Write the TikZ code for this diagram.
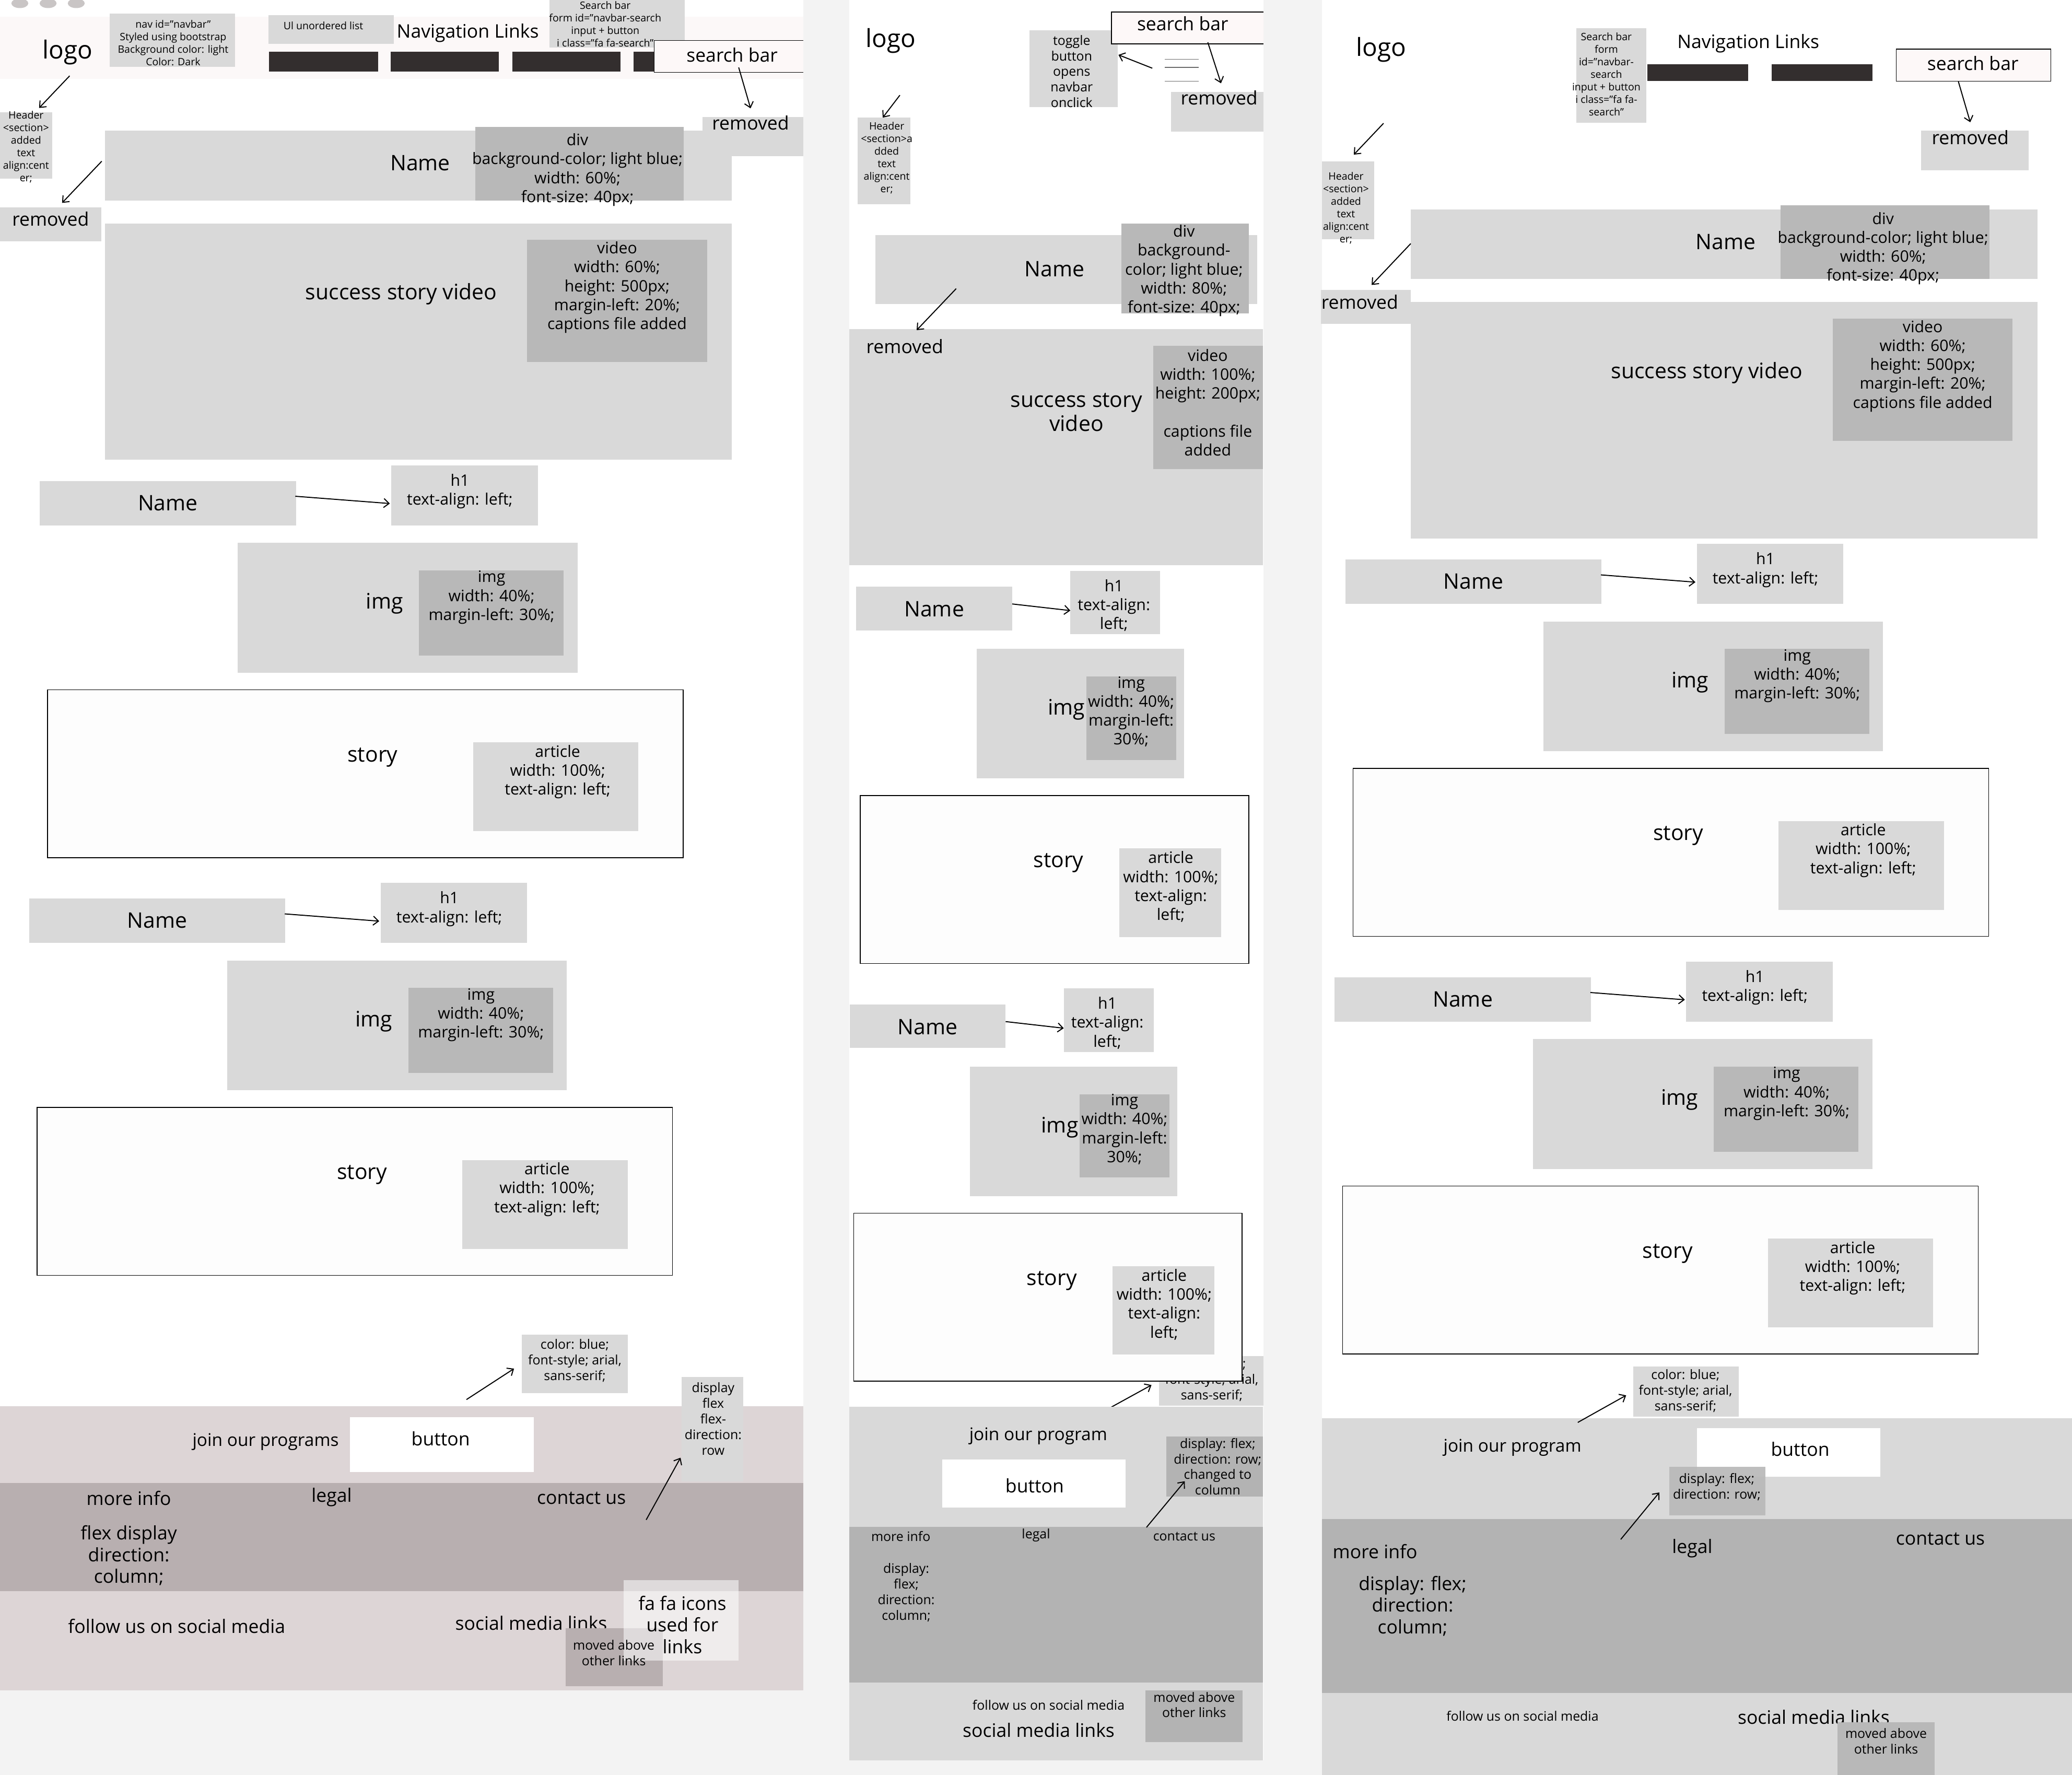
\documentclass[tikz,border=0pt]{standalone}
\usepackage{fontspec}
\setmainfont{Open Sans}
\usetikzlibrary{arrows.meta,fit}
\definecolor{bggray}{HTML}{F3F3F3}
\definecolor{boxgray}{HTML}{D9D9D9}
\definecolor{notegray}{HTML}{B8B8B8}
\definecolor{darkgray2}{HTML}{B3B3B3}
\definecolor{hdrpink}{HTML}{FCF8F8}
\definecolor{sbpink}{HTML}{FDF8F8}
\definecolor{barcol}{HTML}{332E2E}
\definecolor{ftpink}{HTML}{DDD5D6}
\definecolor{ftmauve}{HTML}{B8AFB0}
\definecolor{dotcol}{HTML}{C9C5C5}
\definecolor{storyfill}{HTML}{FDFDFD}
\definecolor{hambcol}{HTML}{6A6A6A}
\newcommand\fsz[2]{\fontsize{#1}{#2}\selectfont}
\tikzset{
 gbox/.style={inner sep=0pt,outer sep=0pt,fill=boxgray,draw=none},
 nbox/.style={inner sep=0pt,outer sep=0pt,fill=notegray,draw=none},
 dbox/.style={inner sep=0pt,outer sep=0pt,fill=darkgray2,draw=none},
 wbox/.style={inner sep=0pt,outer sep=0pt,fill=white,draw=none},
 pbox/.style={inner sep=0pt,outer sep=0pt,fill=sbpink,draw=none},
 storybox/.style={inner sep=0pt,outer sep=0pt,fill=storyfill,draw=black,line width=0.4pt},
 barbox/.style={inner sep=0pt,outer sep=0pt,fill=barcol,draw=none},
 big/.style={inner sep=0pt,align=center,font=\fsz{11.5}{13}},
 mlbl/.style={inner sep=0pt,align=center,font=\fsz{10}{11.7}},
 jlbl/.style={inner sep=0pt,align=center,font=\fsz{9.4}{11.2}},
 logotxt/.style={inner sep=0pt,font=\fsz{13.4}{15}},
 note/.style={inner sep=0pt,align=center,font=\fsz{8.5}{10.2}},
 snote/.style={inner sep=0pt,align=center,font=\fsz{7}{8.4}},
 tnote/.style={inner sep=0pt,align=center,font=\fsz{5.5}{6.75}},
 arr/.style={-{Straight Barb[length=1mm,width=1.7mm]},line width=0.55pt},
 bline/.style={line width=0.45pt,draw=black}
}
% one row: Name / h1 / img / story
\newcommand\storyset[3]{%
\begin{scope}[shift={(#2,#3)}]
  \node[gbox, fit={(30,364)(224,397.5)}] (#1nmbox) {};
  \node[big] (#1nm) at (127,380.6) {Name};
  \node[gbox, fit={(296,352)(407,397.5)}] (#1h1box) {};
  \node[note] (#1h1txt) at (348,371.8) {h1\\text-align: left;};
  \coordinate (#1ha) at (223.5,375.5);
  \coordinate (#1hb) at (295,381);
  \draw[arr] (#1ha) -- (#1hb);
  \node[gbox, fit={(180,410.8)(437,509)}] (#1imgband) {};
  \node[nbox, fit={(317,431.5)(426.5,496)}] (#1imgnote) {};
  \node[note] (#1imgtxt) at (372,452) {img\\width: 40\%;\\margin-left: 30\%;};
  \node[big] (#1imglbl) at (291,456.7) {img};
  \node[storybox, fit={(36,522)(517,649)}] (#1story) {};
  \node[gbox, fit={(358,561.7)(483,629)}] (#1artnote) {};
  \node[note] (#1arttxt) at (422,584) {article\\width: 100\%;\\text-align: left;};
  \node[big] (#1storylbl) at (282,573) {story};
\end{scope}}
% shared main block of the left and right columns
\newcommand\mainblock[3]{%
\begin{scope}[shift={(#2,#3)}]
  \node[gbox, fit={(79.5,99)(553.8,151.6)}] (#1nameband) {};
  \node[nbox, fit={(359.5,96)(517.4,151.6)}] (#1divnote) {};
  \node[big] (#1namelbl) at (318,123.4) {Name};
  \node[note] (#1divtxt) at (437,128.5) {div\\background-color; light blue;\\width: 60\%;\\font-size: 40px;};
  \node[gbox, fit={(79.5,169)(553.8,348)}] (#1videoband) {};
  \node[nbox, fit={(399,181.5)(535,274)}] (#1videonote) {};
  \node[note] (#1videotxt) at (467,217.5) {video\\width: 60\%;\\height: 500px;\\margin-left: 20\%;\\captions file added};
  \node[big] (#1videolbl) at (303.6,222.5) {success story video};
  \storyset{#1a}{0}{0}
  \storyset{#1b}{-8}{316}
\end{scope}}
\begin{document}
\begin{tikzpicture}[x=0.025cm,y=-0.025cm]
\useasboundingbox (0,0) rectangle (1568,1343);
\fill[bggray] (0,0) rectangle (1568,1343);
% columns
\fill[white] (0,0) rectangle (608,1279);
\fill[white] (642.6,0) rectangle (956.3,1332);
\fill[white] (1000.4,0) rectangle (1568,1343);

%================ LEFT COLUMN =================
\foreach \cx in {15,36.4,57.7} \fill[dotcol] (\cx,2.5) ellipse [x radius=0.16cm, y radius=0.09cm];
\fill[hdrpink] (0,12.5) rectangle (608,59.6);
\node[logotxt] (Llogo) at (51,39.5) {logo};
\node[gbox, fit={(83,10.3)(178,50.5)}] (Lnavnote) {};
\node[tnote] (Lnavtxt) at (131,32.6) {nav id=”navbar”\\Styled using bootstrap\\Background color: light\\Color: Dark};
\node[gbox, fit={(203,11.5)(298,33)}] (Luinote) {};
\node[tnote] (Luitxt) at (244.7,19.5) {Ul unordered list};
\node[mlbl] (Lnavlinks) at (354,25) {Navigation Links};
\node[barbox, fit={(203.5,39)(286,54)}] (Lbar1) {};
\node[barbox, fit={(295.6,39)(377.5,54)}] (Lbar2) {};
\node[barbox, fit={(387.7,39)(469.6,54)}] (Lbar3) {};
\node[barbox, fit={(479.4,39)(560,54)}] (Lbar4) {};
\node[gbox, fit={(416,0)(518,36)}] (Lsnote) {};
\node[tnote] (Lstxt) at (458,18.2) {Search bar\\form id=”navbar-search\\input + button\\i class=”fa fa-search”};
\node[pbox, fit={(495,30.6)(608,54.7)}] (Lsb) {};
\draw[bline] (Lsb.north east) -- (Lsb.north west) -- (Lsb.south west) -- (Lsb.south east);
\node[mlbl] (Lsbtxt) at (554,41.5) {search bar};
\node[gbox, fit={(531.6,88.5)(608,118)}] (Lrem1) {};
\node[mlbl] (Lrem1txt) at (568,93) {removed};
\coordinate (Lsa) at (559,51); \coordinate (Lsz) at (568,82);
\draw[arr] (Lsa) -- (Lsz);
\coordinate (Lla) at (52.7,57.4); \coordinate (Llz) at (29.6,81.7);
\draw[arr] (Lla) -- (Llz);
\node[gbox, fit={(0,85)(39.7,135)}] (Lhdrnote) {};
\node[tnote] (Lhdrtxt) at (19.7,111.3) {Header\\<section>\\added\\text\\align:cent\\er;};
\coordinate (Lha) at (77,122); \coordinate (Lhz) at (47,153.5);
\draw[arr] (Lha) -- (Lhz);
\node[gbox, fit={(0,157)(76.7,182.5)}] (Lrem2) {};
\node[mlbl] (Lrem2txt) at (38.3,165.8) {removed};
\mainblock{L}{0}{0}
% footer
\node[gbox, fit={(395,1010)(475,1054)}] (Lcolnote) {};
\node[snote] (Lcoltxt) at (435,1029.6) {color: blue;\\font-style; arial,\\sans-serif;};
\coordinate (Lca) at (353,1059); \coordinate (Lcz) at (389,1035.6);
\draw[arr] (Lca) -- (Lcz);
\fill[ftpink] (0,1064) rectangle (608,1122);
\node[wbox, fit={(265,1072.5)(404,1114)}] (Lbtn) {};
\node[mlbl] (Lbtntxt) at (333.5,1088.5) {button};
\node[jlbl] (Ljoin) at (201,1091) {join our programs};
\node[gbox, fit={(516,1042)(562.5,1121)}] (Ldfnote) {};
\node[snote] (Ldftxt) at (539.7,1073.5) {display\\flex\\flex-\\direction:\\row};
\fill[ftmauve] (0,1122) rectangle (608,1204);
\node[mlbl] (Lmore) at (97.5,1133.6) {more info};
\node[mlbl] (Llegal) at (251,1133) {legal};
\node[mlbl] (Lcontact) at (440,1133.6) {contact us};
\node[mlbl] (Lflex) at (97.5,1177) {flex display\\direction:\\column;};
\coordinate (Lda) at (489,1150); \coordinate (Ldz) at (515,1103);
\draw[arr] (Lda) -- (Ldz);
\fill[ftpink] (0,1204) rectangle (608,1279);
\node[mlbl] (Lfollow) at (133.7,1230.3) {follow us on social media};
\node[mlbl] (Lsocial) at (402,1228) {social media links};
\node[inner sep=0pt, fill=ftmauve, fit={(428,1232)(501.5,1276)}] (Lmoved) {};
\node[inner sep=0pt, fill=white, fill opacity=0.55, fit={(472,1195.7)(559,1256.7)}] (Lfa) {};
\node[snote] (Lmovedtxt) at (464.5,1250.6) {moved above\\other links};
\node[mlbl] (Lfatxt) at (516.4,1229.4) {fa fa icons\\used for\\links};

%================ MIDDLE COLUMN =================
\node[logotxt] (Mlogo) at (674,31) {logo};
\node[gbox, fit={(779,23)(846,81)}] (Mtoggle) {};
\node[snote] (Mtoggletxt) at (811,54) {toggle\\button\\opens\\navbar\\onclick};
\node[pbox, fit={(841,9.2)(956.3,33.3)}] (Msb) {};
\draw[bline] (Msb.north east) -- (Msb.north west) -- (Msb.south west) -- (Msb.south east);
\node[mlbl] (Msbtxt) at (895,18) {search bar};
\coordinate (Msa) at (914,32); \coordinate (Msz) at (924,63);
\draw[arr] (Msa) -- (Msz);
\coordinate (Mh1) at (881.5,44.8); \coordinate (Mh1e) at (907,44.8);
\coordinate (Mh2) at (881.5,51); \coordinate (Mh2e) at (907,51);
\coordinate (Mh3) at (881.5,61.4); \coordinate (Mh3e) at (907,61.4);
\draw[hambcol,line width=0.4pt] (Mh1) -- (Mh1e) (Mh2) -- (Mh2e) (Mh3) -- (Mh3e);
\coordinate (Mta) at (872,51.6); \coordinate (Mtz) at (846.4,41.5);
\draw[arr] (Mta) -- (Mtz);
\node[gbox, fit={(886,69.6)(956.3,99.5)}] (Mrem1) {};
\node[mlbl] (Mrem1txt) at (922.6,74) {removed};
\coordinate (Mla) at (681,72); \coordinate (Mlz) at (668,89);
\draw[arr] (Mla) -- (Mlz);
\node[gbox, fit={(649,89)(689,154.4)}] (Mhdrnote) {};
\node[tnote] (Mhdrtxt) at (671,119.6) {Header\\<section>a\\dded\\text\\align:cent\\er;};
\node[gbox, fit={(662.5,178)(951.5,230)}] (Mnameband) {};
\node[nbox, fit={(848.6,169)(945,237)}] (Mdivnote) {};
\node[note] (Mdivtxt) at (896,204.8) {div\\background-\\color; light blue;\\width: 80\%;\\font-size: 40px;};
\node[big] (Mnamelbl) at (798,203.5) {Name};
\coordinate (Mna) at (723.6,218.4); \coordinate (Mnz) at (693.7,249.8);
\node[gbox, fit={(642.6,249)(955.6,427.5)}] (Mvideoband) {};
\draw[arr] (Mna) -- (Mnz);
\node[mlbl] (Mrem2txt) at (684.7,262) {removed};
\node[nbox, fit={(872.7,261.8)(955.6,354.8)}] (Mvideonote) {};
\node[note] (Mvideotxt) at (914,304.5) {video\\width: 100\%;\\height: 200px;\\\\captions file\\added};
\node[big] (Mvideolbl) at (814.6,312) {success story\\video};
% colour note (sits under the second story box)
\node[gbox, fit={(877,1026)(956.3,1063.6)}] (Mcolnote) {};
\node[snote] (Mcoltxt) at (917,1044) {color: blue;\\font-style; arial,\\sans-serif;};
\foreach \p/\dx/\dy in {Ma/0/0, Mb/-5/316} {
\begin{scope}[shift={(\dx,\dy)}]
  \node[gbox, fit={(648,444)(766,477)}] (\p nmbox) {};
  \node[big] (\p nm) at (707,461) {Name};
  \node[gbox, fit={(810,432)(878,480)}] (\p h1box) {};
  \node[note] (\p h1txt) at (843,458) {h1\\text-align:\\left;};
  \coordinate (\p ha) at (766,457); \coordinate (\p hb) at (810,462);
  \draw[arr] (\p ha) -- (\p hb);
  \node[gbox, fit={(739,491)(896,589)}] (\p imgband) {};
  \node[nbox, fit={(822,512)(890,575)}] (\p imgnote) {};
  \node[note] (\p imgtxt) at (856,538.5) {img\\width: 40\%;\\margin-left:\\30\%;};
  \node[big] (\p imglbl) at (807,537) {img};
  \node[storybox, fit={(651,602)(945,729)}] (\p story) {};
  \node[gbox, fit={(847,642)(924,709)}] (\p artnote) {};
  \node[note] (\p arttxt) at (886,671) {article\\width: 100\%;\\text-align:\\left;};
  \node[big] (\p storylbl) at (801,653) {story};
\end{scope}}
\coordinate (Mca) at (835,1068); \coordinate (Mcz) at (871.4,1048);
\draw[arr] (Mca) -- (Mcz);
\fill[boxgray] (642.6,1064.5) rectangle (955.6,1155.3);
\node[jlbl] (Mjoin) at (785.7,1086.8) {join our program};
\node[wbox, fit={(713,1104.4)(851.6,1140.8)}] (Mbtn) {};
\node[mlbl] (Mbtntxt) at (783,1124) {button};
\node[dbox, fit={(882.6,1087)(955.6,1132.5)}] (Mdfnote) {};
\node[snote] (Mdftxt) at (921.5,1109.7) {display: flex;\\direction: row;\\changed to\\column};
\fill[darkgray2] (642.6,1155.3) rectangle (955.6,1273);
\coordinate (Mda) at (867.6,1155.7); \coordinate (Mdz) at (896.6,1120.8);
\draw[arr] (Mda) -- (Mdz);
\node[snote] (Mmore) at (681.7,1162.5) {more info};
\node[snote] (Mlegal) at (784,1161.7) {legal};
\node[snote] (Mcontact) at (896.2,1162.5) {contact us};
\node[snote] (Mflex) at (685.8,1205) {display:\\flex;\\direction:\\column;};
\fill[boxgray] (642.6,1273) rectangle (955.6,1332);
\node[snote] (Mfollow) at (793.5,1290.3) {follow us on social media};
\node[mlbl] (Msocial) at (786,1309.2) {social media links};
\node[dbox, fit={(866.8,1279)(940.5,1318)}] (Mmoved) {};
\node[snote] (Mmovedtxt) at (903.7,1290) {moved above\\other links};

%================ RIGHT COLUMN =================
\node[logotxt] (Rlogo) at (1045.3,37.5) {logo};
\node[gbox, fit={(1193,21.4)(1246,93)}] (Rsnote) {};
\node[tnote] (Rstxt) at (1215.6,56.3) {Search bar\\form\\id=”navbar-\\search\\input + button\\i class=”fa fa-\\search”};
\node[mlbl] (Rnavlinks) at (1323,32.8) {Navigation Links};
\node[barbox, fit={(1246.6,48.7)(1323,61.4)}] (Rbar1) {};
\node[barbox, fit={(1340.7,48.7)(1417,61.4)}] (Rbar2) {};
\node[pbox, draw=black, line width=0.45pt, fit={(1435,37.2)(1552,61.4)}] (Rsb) {};
\node[mlbl] (Rsbtxt) at (1493,48) {search bar};
\coordinate (Rsa) at (1482,61.7); \coordinate (Rsz) at (1491,92.5);
\draw[arr] (Rsa) -- (Rsz);
\node[gbox, fit={(1453.7,99)(1535,129)}] (Rrem1) {};
\node[mlbl] (Rrem1txt) at (1491,104) {removed};
\coordinate (Rla) at (1047,93.3); \coordinate (Rlz) at (1024.5,117);
\draw[arr] (Rla) -- (Rlz);
\node[gbox, fit={(1000.4,122)(1040,181)}] (Rhdrnote) {};
\node[tnote] (Rhdrtxt) at (1018.6,157.6) {Header\\<section>\\added\\text\\align:cent\\er;};
\mainblock{R}{988}{59.5}
\coordinate (Rha) at (1067.6,184.3); \coordinate (Rhz) at (1038,215.6);
\draw[arr] (Rha) -- (Rhz);
\node[gbox, fit={(999.5,219.3)(1067.6,245)}] (Rrem2) {};
\node[mlbl] (Rrem2txt) at (1029,228.4) {removed};
% footer
\node[gbox, fit={(1236,1034)(1316,1072)}] (Rcolnote) {};
\node[snote] (Rcoltxt) at (1275.5,1052.5) {color: blue;\\font-style; arial,\\sans-serif;};
\coordinate (Rca) at (1194,1076.3); \coordinate (Rcz) at (1230.6,1055.8);
\fill[boxgray] (1000.4,1073) rectangle (1568,1149.4);
\draw[arr] (Rca) -- (Rcz);
\node[jlbl] (Rjoin) at (1144.5,1095.5) {join our program};
\node[wbox, fit={(1284,1080.6)(1423,1117.4)}] (Rbtn) {};
\node[mlbl] (Rbtntxt) at (1362.3,1096.4) {button};
\node[inner sep=0pt, fill=notegray, fill opacity=0.9, fit={(1263.4,1110)(1336,1146.7)}] (Rdfnote) {};
\node[snote] (Rdftxt) at (1299.2,1125) {display: flex;\\direction: row;};
\fill[darkgray2] (1000.4,1149.4) rectangle (1568,1281);
\coordinate (Rda) at (1226.5,1164.8); \coordinate (Rdz) at (1255.7,1129.3);
\draw[arr] (Rda) -- (Rdz);
\node[mlbl] (Rmore) at (1040.6,1174) {more info};
\node[mlbl] (Rlegal) at (1280.6,1171.5) {legal};
\node[mlbl] (Rcontact) at (1468.4,1164.4) {contact us};
\node[mlbl] (Rflex) at (1069,1215.2) {display: flex;\\direction:\\column;};
\fill[boxgray] (1000.4,1281) rectangle (1568,1343);
\node[snote] (Rfollow) at (1152.2,1298.6) {follow us on social media};
\node[mlbl] (Rsocial) at (1372.5,1299.2) {social media links};
\node[nbox, fit={(1390.4,1303.2)(1464,1343)}] (Rmoved) {};
\node[snote] (Rmovedtxt) at (1427.3,1317.6) {moved above\\other links};
\end{tikzpicture}
\end{document}
